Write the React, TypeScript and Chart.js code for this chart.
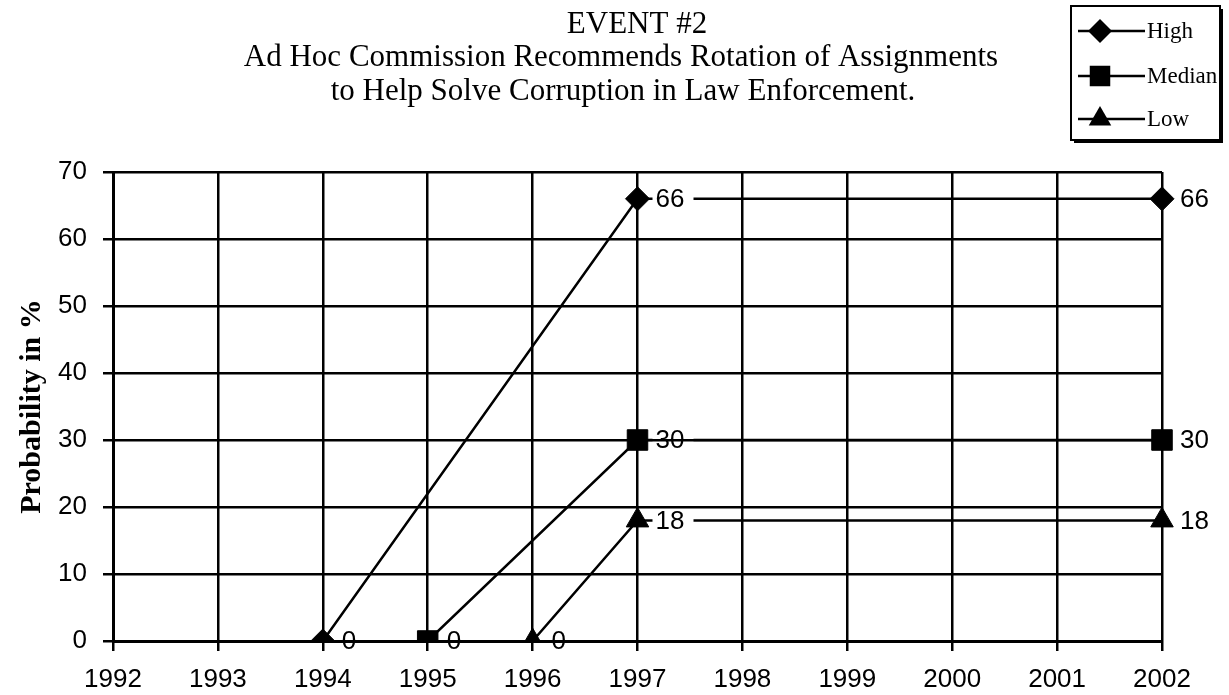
import React, { useEffect, useRef } from "react";
import { Chart, registerables } from "chart.js";

Chart.register(...registerables);

const years = ["1992", "1993", "1994", "1995", "1996", "1997", "1998", "1999", "2000", "2001", "2002"];
const yTickValues = [0, 10, 20, 30, 40, 50, 60, 70];
const highValues = [null, null, 0, null, null, 66, null, null, null, null, 66];
const medianValues = [null, null, null, 0, null, 30, null, null, null, null, 30];
const lowValues = [null, null, null, null, 0, 18, null, null, null, null, 18];
const seriesNames = ["High", "Median", "Low"];
const titleLines = [
  "EVENT #2",
  "Ad Hoc Commission Recommends Rotation of Assignments",
  "to Help Solve Corruption in Law Enforcement.",
];
const yAxisTitle = "Probability in %";

const SANS = '"Liberation Sans", Arial, Helvetica, sans-serif';
const SERIF = '"Liberation Serif", "Times New Roman", Times, serif';
const GAP_INDEX = 5;

function markerPath(ctx: CanvasRenderingContext2D, style: string, x: number, y: number, r: number) {
  ctx.beginPath();
  if (style === "rectRot") {
    ctx.moveTo(x, y - r);
    ctx.lineTo(x + r, y);
    ctx.lineTo(x, y + r);
    ctx.lineTo(x - r, y);
  } else if (style === "rect") {
    const s = r * Math.SQRT1_2;
    ctx.rect(x - s, y - s, 2 * s, 2 * s);
  } else {
    ctx.moveTo(x, y - r);
    ctx.lineTo(x + r * 0.866, y + r * 0.5);
    ctx.lineTo(x - r * 0.866, y + r * 0.5);
  }
  ctx.closePath();
}

const titlePlugin = {
  id: "customTitle",
  afterDraw(chart: any) {
    const ctx = chart.ctx as CanvasRenderingContext2D;
    ctx.save();
    ctx.fillStyle = "#000";
    ctx.font = `31px ${SERIF}`;
    ctx.textAlign = "center";
    ctx.textBaseline = "alphabetic";
    const centers = [637, 621, 623];
    const baselines = [33, 66, 100];
    titleLines.forEach((t, i) => ctx.fillText(t, centers[i], baselines[i]));
    ctx.restore();
  },
};

const legendPlugin = {
  id: "boxLegend",
  afterDraw(chart: any) {
    const ctx = chart.ctx as CanvasRenderingContext2D;
    const left = 1071, top = 6, right = 1220, bottom = 140;
    ctx.save();
    ctx.fillStyle = "#000";
    ctx.fillRect(left + 3, top + 3, right - left, bottom - top);
    ctx.fillStyle = "#fff";
    ctx.fillRect(left, top, right - left, bottom - top);
    ctx.strokeStyle = "#000";
    ctx.lineWidth = 2;
    ctx.strokeRect(left, top, right - left, bottom - top);
    ctx.font = `23px ${SERIF}`;
    ctx.textBaseline = "middle";
    ctx.textAlign = "left";
    const rows = [31, 76, 119];
    chart.data.datasets.forEach((ds: any, i: number) => {
      const y = rows[i];
      ctx.strokeStyle = "#000";
      ctx.lineWidth = 2.5;
      ctx.beginPath();
      ctx.moveTo(1078, y);
      ctx.lineTo(1145, y);
      ctx.stroke();
      markerPath(ctx, ds.pointStyle, 1100, y, ds.pointRadius);
      ctx.fillStyle = "#000";
      ctx.fill();
      ctx.fillText(ds.label, 1147, y + 1);
    });
    ctx.restore();
  },
};

const gapPlugin = {
  id: "labelGap",
  beforeDatasetDraw(chart: any, args: any) {
    const ctx = chart.ctx as CanvasRenderingContext2D;
    const meta = args.meta;
    const data = chart.data.datasets[args.index].data;
    ctx.save();
    ctx.beginPath();
    ctx.rect(0, 0, chart.width, chart.height);
    const pt = meta.data[GAP_INDEX];
    if (pt && data[GAP_INDEX] !== null) {
      ctx.rect(pt.x + 15, pt.y - 7, 41, 14);
    }
    ctx.clip("evenodd");
  },
  afterDatasetDraw(chart: any) {
    chart.ctx.restore();
  },
};

const dataLabelPlugin = {
  id: "dataLabels",
  afterDatasetsDraw(chart: any) {
    const ctx = chart.ctx as CanvasRenderingContext2D;
    ctx.save();
    ctx.fillStyle = "#000";
    ctx.font = `26px ${SANS}`;
    ctx.textAlign = "left";
    ctx.textBaseline = "middle";
    chart.data.datasets.forEach((ds: any, di: number) => {
      const meta = chart.getDatasetMeta(di);
      ds.data.forEach((v: number | null, i: number) => {
        if (v === null) return;
        const pt = meta.data[i];
        const dx = v === 0 ? 19 : 18;
        ctx.fillText(String(v), pt.x + dx, pt.y + 1);
      });
    });
    ctx.restore();
  },
};

export default function App() {
  const canvasRef = useRef<HTMLCanvasElement | null>(null);

  useEffect(() => {
    const canvas = canvasRef.current;
    if (!canvas) return;
    const common = {
      borderColor: "#000",
      borderWidth: 2.5,
      pointBackgroundColor: "#000",
      pointBorderColor: "#000",
      pointBorderWidth: 1,
      spanGaps: true,
      tension: 0,
      fill: false,
    };
    const chart = new Chart(canvas, {
      type: "line",
      data: {
        labels: years,
        datasets: [
          { ...common, label: seriesNames[0], data: highValues, pointStyle: "rectRot", pointRadius: 12 },
          { ...common, label: seriesNames[1], data: medianValues, pointStyle: "rect", pointRadius: 14.5 },
          { ...common, label: seriesNames[2], data: lowValues, pointStyle: "triangle", pointRadius: 13 },
        ],
      },
      options: {
        animation: false,
        responsive: false,
        layout: { padding: { top: 172, left: 0, right: 67, bottom: 0 } },
        plugins: {
          legend: { display: false },
          title: { display: false },
          tooltip: { enabled: false },
        },
        scales: {
          x: {
            type: "category",
            offset: false,
            grid: { color: "#000", lineWidth: 2.5, tickLength: 10, offset: false, drawTicks: true },
            border: { color: "#000", width: 3 },
            ticks: {
              color: "#000",
              font: { family: SANS, size: 26 },
              padding: 13,
              maxRotation: 0,
              autoSkip: false,
            },
            afterFit: (s: any) => {
              s.height = 54;
            },
          },
          y: {
            min: 0,
            max: 70,
            grid: { color: "#000", lineWidth: 2.5, tickLength: 10, drawTicks: true },
            border: { color: "#000", width: 3 },
            ticks: {
              color: "#000",
              font: { family: SANS, size: 26 },
              padding: 16,
            },
            afterBuildTicks: (s: any) => {
              s.ticks = yTickValues.map((v) => ({ value: v }));
            },
            afterFit: (s: any) => {
              s.width = 113;
            },
            title: {
              display: true,
              text: yAxisTitle,
              color: "#000",
              font: { family: SERIF, size: 30, weight: "bold" },
              padding: { top: 14, bottom: 0 },
            },
          },
        },
      },
      plugins: [gapPlugin, dataLabelPlugin, titlePlugin, legendPlugin],
    } as any);
    return () => chart.destroy();
  }, []);

  return (
    <div style={{ position: "fixed", left: 0, top: 0, width: 1229, height: 695, background: "#fff" }}>
      <canvas ref={canvasRef} width={1229} height={695} style={{ display: "block" }} />
    </div>
  );
}
